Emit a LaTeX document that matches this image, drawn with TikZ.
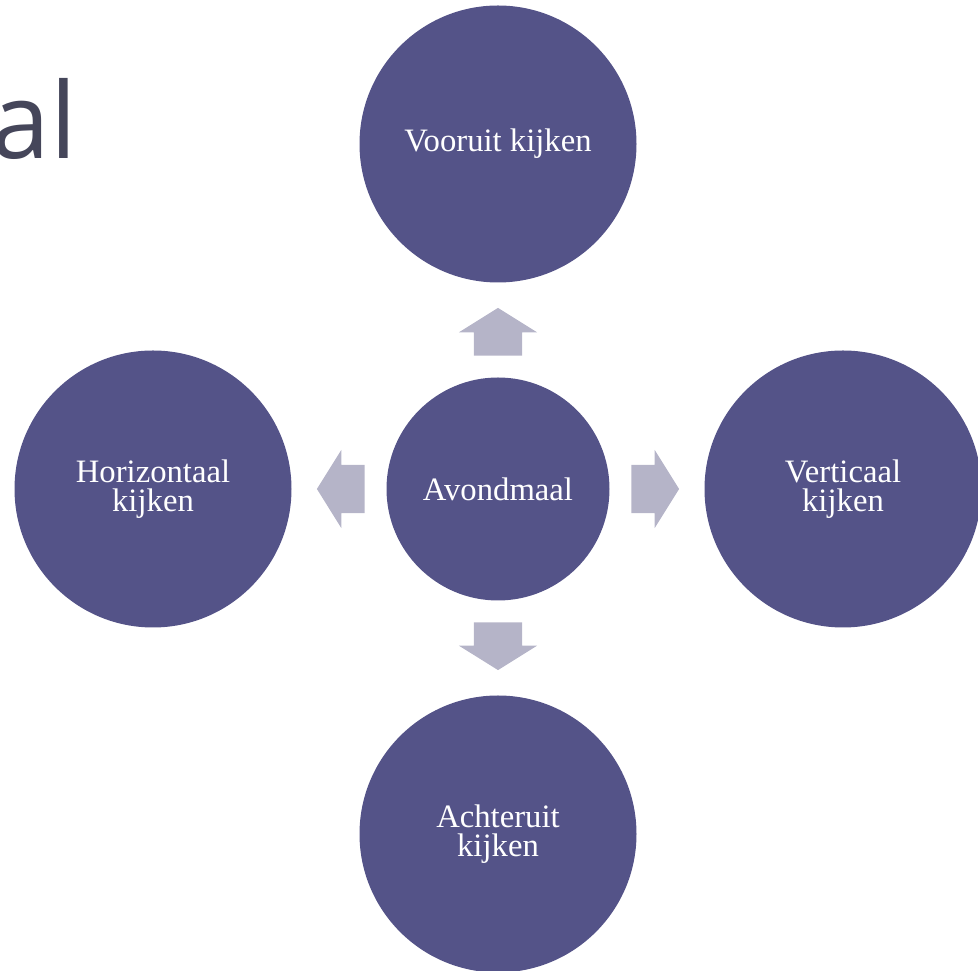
\documentclass[tikz,border=0pt]{standalone}
\usepackage{fontspec}
\setmainfont{Liberation Serif}
\newfontfamily\titlefont{Open Sans}
\usetikzlibrary{calc,shapes.arrows}
\definecolor{circfill}{HTML}{545388}
\definecolor{arrfill}{HTML}{B5B4C8}
\definecolor{titlegray}{HTML}{45465A}
\begin{document}
\begin{tikzpicture}[thick,
        bigcirc/.style={circle, fill=circfill, text=white, minimum size=5.54cm, inner sep=0pt, align=center, font=\fontsize{18.6}{16.6}\selectfont},
        hubcirc/.style={bigcirc, minimum size=4.46cm},
        blockarrow/.style={single arrow, fill=arrfill, inner xsep=0pt, inner ysep=0.467cm, minimum height=0.954cm, single arrow head extend=0.3cm, single arrow tip angle=116}]
        \useasboundingbox (0,0) rectangle (19.56,19.42);
        \clip (0,0) rectangle (19.56,19.42);
        \node[anchor=base east, text=titlegray, inner sep=0pt] (title) at (1.56,16.24) {\titlefont\fontsize{60}{60}\selectfont al};
        \node[hubcirc] (hub) at (9.96,9.64) {Avondmaal};
        \node[bigcirc] (top) at (9.96,16.54) {Vooruit kijken};
        \node[bigcirc] (left) at (3.06,9.64) {Horizontaal\\kijken};
        \node[bigcirc] (right) at (16.86,9.64) {Verticaal\\kijken};
        \node[bigcirc] (bottom) at (9.96,2.74) {Achteruit\\kijken};
        % block arrows between hub and outer circles
        \node[blockarrow, rotate=90] (toTop) at ($(hub)!0.434!(top)$) {};
        \node[blockarrow, rotate=180] (toLeft) at ($(hub)!0.434!(left)$) {};
        \node[blockarrow] (toRight) at ($(hub)!0.434!(right)$) {};
        \node[blockarrow, rotate=270] (toBottom) at ($(hub)!0.434!(bottom)$) {};
    \end{tikzpicture}
\end{document}
